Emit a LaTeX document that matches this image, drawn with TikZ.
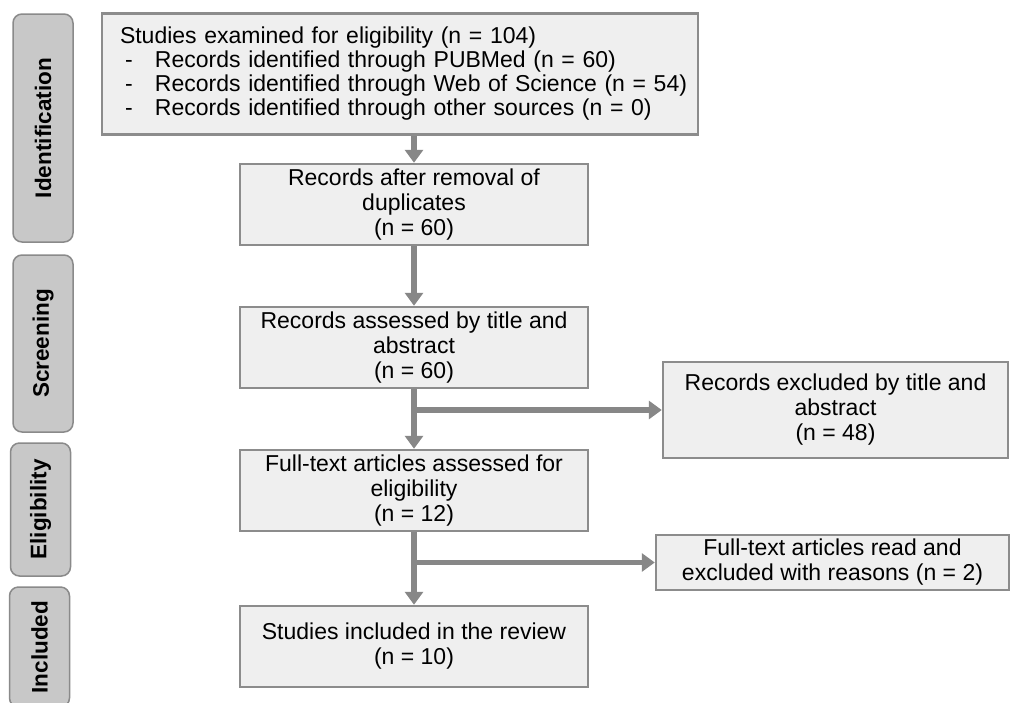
\documentclass[tikz,border=0pt]{standalone}
\usepackage{fontspec}
\setmainfont{Liberation Sans}
\usetikzlibrary{arrows.meta}
\definecolor{boxfill}{HTML}{EFEFEF}
\definecolor{boxline}{HTML}{8C8C8C}
\definecolor{arrowgray}{HTML}{878787}
\definecolor{tabfill}{HTML}{C8C8C8}
\definecolor{tabline}{HTML}{8A8A8A}
\begin{document}
\begin{tikzpicture}[x=1pt,y=-1pt,
  box/.style={draw=boxline, fill=boxfill, line width=2.5pt, align=center,
    font=\fontsize{23}{25}\selectfont, inner sep=0pt},
  tab/.style={draw=tabline, fill=tabfill, line width=1.5pt, rounded corners=9pt,
    rotate=90, inner sep=0pt, minimum height=60pt,
    font=\bfseries\fontsize{22.5}{25}\selectfont},
  arr/.style={draw=arrowgray, line width=5.5pt, -{Triangle[width=18pt,length=13pt]}}]
\clip (0,0) rectangle (1011,702);
\fill[white] (0,0) rectangle (1011,702);

% phase tabs
\node[tab, minimum width=228pt] (tid) at (43,128) {Identification};
\node[tab, minimum width=177pt] (tsc) at (43,343.5) {Screening};
\node[tab, minimum width=133pt] (tel) at (40.5,509.5) {Eligibility};
\node[tab, minimum width=120pt] (tin) at (39.5,647) {Included};

% boxes
\node[box, minimum width=596pt, minimum height=121pt, text width=584pt, align=left,
      font=\fontsize{23}{24}\selectfont] (s1) at (400,74)
  {\hspace*{12pt}Studies examined for eligibility (n = 104)\\
   \hspace*{12pt}\makebox[35pt][l]{\hspace{5pt}-}Records identified through PUBMed (n = 60)\\
   \hspace*{12pt}\makebox[35pt][l]{\hspace{5pt}-}Records identified through Web of Science (n = 54)\\
   \hspace*{12pt}\makebox[35pt][l]{\hspace{5pt}-}Records identified through other sources (n = 0)};
\node[box, minimum width=348pt, minimum height=81pt] (s2) at (414,204.5)
  {Records after removal of\\duplicates\\(n = 60)};
\node[box, minimum width=348pt, minimum height=81pt] (s3) at (414,347.5)
  {Records assessed by title and\\abstract\\(n = 60)};
\node[box, minimum width=345pt, minimum height=96pt] (e1) at (835.5,410)
  {Records excluded by title and\\abstract\\(n = 48)};
\node[box, minimum width=348pt, minimum height=81pt] (s4) at (414,490.5)
  {Full-text articles assessed for\\eligibility\\(n = 12)};
\node[box, minimum width=353pt, minimum height=55pt] (e2) at (832.5,562.5)
  {Full-text articles read and\\excluded with reasons (n = 2)};
\node[box, minimum width=348pt, minimum height=81pt] (s5) at (414,646.5)
  {Studies included in the review\\(n = 10)};

% connectors
\draw[arr] (s2.north |- s1.south) -- (s2.north);
\draw[arr] (s2) -- (s3);
\draw[arr] (s3) -- (s4);
\coordinate (j1) at (s3.south |- e1.west);
\draw[arr] (j1) -- (e1.west);
\draw[arr] (s4) -- (s5);
\coordinate (j2) at (s4.south |- e2.west);
\draw[arr] (j2) -- (e2.west);
\end{tikzpicture}
\end{document}
